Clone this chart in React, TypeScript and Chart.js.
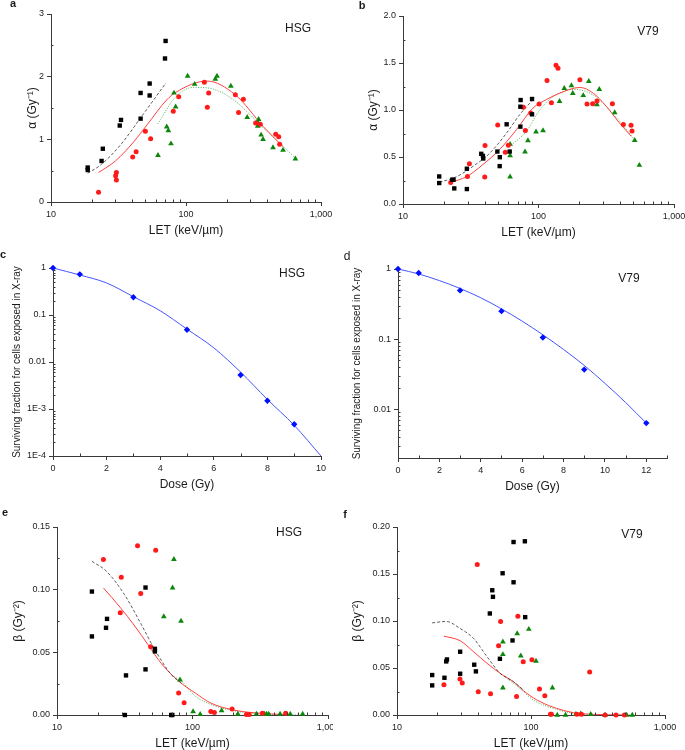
import React, { useEffect, useRef } from 'react';
import { Chart, registerables } from 'chart.js';

Chart.register(...registerables);

const FONT = "'Liberation Sans', Arial, Helvetica, sans-serif";
const AXIS = '#3a3a3a';
const TEXT = '#1a1a1a';
const RED = '#ff1a1a';
const GREEN = '#0b870b';
const BLACK = '#000000';
const BLUE = '#0010ff';

// ---------------- Panel a (HSG, alpha) ----------------
const aSqLET = [18.7, 18.7, 23.7, 24.2, 32.3, 33.0, 46.1, 46.1, 53.8, 53.8, 69.9, 70.6];
const aSqAlpha = [0.55, 0.51, 0.655, 0.85, 1.22, 1.31, 1.33, 1.74, 1.7, 1.89, 2.29, 2.57];
const aCirLET = [22.5, 30.1, 30.5, 30.5, 40.3, 42.7, 50.0, 54.7, 80.5, 88.3, 136.8, 143.9, 147.2, 232, 266, 245, 328, 355, 462, 486, 494];
const aCirAlpha = [0.155, 0.42, 0.47, 0.35, 0.72, 0.8, 1.13, 1.01, 1.45, 1.68, 1.91, 1.51, 1.74, 1.71, 1.64, 1.43, 1.26, 1.24, 1.08, 1.04, 0.92];
const aTriLET = [62, 72, 74, 77.4, 81.5, 83.8, 102.8, 115.9, 164.9, 169.7, 215, 284, 345, 341, 340, 360, 372, 441, 523, 646];
const aTriAlpha = [0.746, 1.2, 1.14, 0.93, 1.74, 1.52, 2.01, 1.88, 1.96, 2.01, 1.85, 1.35, 1.32, 1.26, 1.21, 1.07, 1.0, 0.87, 0.83, 0.69];
const aDashLET = [18.7, 23.3, 32.7, 46, 71];
const aDashAlpha = [0.46, 0.59, 0.91, 1.34, 1.9];
const aRedLET = [22.5, 30, 41, 51.4, 72, 84, 143, 232, 375, 525];
const aRedAlpha = [0.47, 0.655, 0.96, 1.23, 1.63, 1.75, 1.93, 1.71, 1.2, 0.88];
const aGreenLET = [62, 84, 115, 160, 225, 375, 660];
const aGreenAlpha = [1.25, 1.68, 1.83, 1.8, 1.63, 1.18, 0.68];

// ---------------- Panel b (V79, alpha) ----------------
const bSqLET = [18.5, 18.5, 23.1, 23.6, 23.9, 29.6, 29.6, 37.8, 38.9, 39.1, 49.7, 51.7, 51.8, 58.2, 61.3, 73.5, 73.5, 73.8, 89.6, 89.6];
const bSqAlpha = [0.293, 0.223, 0.258, 0.258, 0.166, 0.375, 0.159, 0.534, 0.512, 0.484, 0.558, 0.403, 0.498, 0.848, 0.558, 0.823, 1.035, 1.106, 0.954, 1.117];
const bCirLET = [22.5, 30.9, 29.9, 40.1, 40.3, 50.0, 56.9, 59.9, 77.3, 80.0, 87.6, 101, 115.6, 124.5, 134.7, 139.3, 202, 228, 251, 270, 351, 423, 482, 490];
const bCirAlpha = [0.23, 0.428, 0.293, 0.286, 0.622, 0.841, 0.551, 0.625, 1.028, 0.781, 0.968, 1.064, 1.314, 1.078, 1.477, 1.445, 1.322, 1.064, 1.067, 1.095, 1.067, 0.845, 0.837, 0.777];
const bTriLET = [61.7, 61.7, 61.7, 79.5, 83.6, 95.9, 108, 143, 155, 175, 179, 214, 235, 270, 281, 365, 513, 555];
const bTriAlpha = [0.636, 0.516, 0.29, 0.555, 0.675, 0.767, 0.781, 1.092, 1.23, 1.26, 1.177, 1.155, 1.304, 1.057, 1.219, 0.972, 0.678, 0.413];
const bDashLET = [18.6, 24.8, 32.8, 43.6, 57.8, 72.6, 91];
const bDashAlpha = [0.23, 0.29, 0.4, 0.54, 0.75, 0.95, 1.11];
const bRedLET = [22.5, 29.4, 38.9, 51.7, 68.7, 91, 114, 144, 202, 253, 316, 397, 484];
const bRedAlpha = [0.23, 0.29, 0.42, 0.58, 0.79, 1.02, 1.11, 1.18, 1.24, 1.18, 1.04, 0.86, 0.72];
const bGreenLET = [61, 81, 102, 128, 180, 253, 355, 514];
const bGreenAlpha = [0.61, 0.77, 1.0, 1.14, 1.22, 1.16, 0.96, 0.68];

// ---------------- Panel c (HSG, survival) ----------------
const cDose = [0, 1, 3, 5, 7, 8, 9];
const cSF = [1, 0.733, 0.238, 0.0487, 0.00529, 0.0015, 0.000472];
const cFitDose = [0, 1, 2, 3, 4, 5, 6, 7, 8, 9, 10];
const cFitSF = [1, 0.71, 0.48, 0.245, 0.123, 0.05, 0.02, 0.0061, 0.0016, 0.00045, 0.0001];

// ---------------- Panel d (V79, survival) ----------------
const dDose = [0, 1, 3, 5, 7, 9, 12];
const dSF = [1, 0.877, 0.495, 0.25, 0.105, 0.0366, 0.0063];
const dFitDose = [0, 1, 2, 3, 4, 5, 6, 7, 8, 9, 10, 11, 12];
const dFitSF = [1, 0.85, 0.683, 0.527, 0.388, 0.27, 0.18, 0.115, 0.071, 0.042, 0.0233, 0.0124, 0.0063];

// ---------------- Panel e (HSG, beta) ----------------
const eSqLET = [18.1, 18.1, 23.0, 23.4, 31.7, 32.3, 45.0, 45.0, 52.8, 52.8, 69.6, 71];
const eSqBeta = [0.0985, 0.0627, 0.0696, 0.0767, 0, 0.0316, 0.1017, 0.0364, 0.0528, 0.0507, 0, 0];
const eCirLET = [22.0, 29.8, 29.3, 39.3, 41.5, 49.1, 53.5, 79.0, 86.7, 136.5, 145, 196, 250, 262, 328, 487];
const eCirBeta = [0.124, 0.11, 0.0815, 0.135, 0.097, 0.0544, 0.1314, 0.0175, 0.0098, 0.0027, 0.002, 0.0048, 0.0003, 0.0003, 0.0013, 0.0013];
const eTriLET = [61.4, 71.3, 72.9, 82.3, 80.9, 101, 114, 164, 216, 296, 340, 352, 365, 443, 526, 650];
const eTriBeta = [0.0786, 0.1014, 0.1242, 0.0749, 0.0281, 0.0027, 0.0005, 0.0035, 0.0008, 0.0008, 0.0008, 0.0008, 0.0008, 0.0008, 0.0008, 0.0008];
const eDashLET = [18.1, 23, 31.5, 42, 52.8, 70, 83];
const eDashBeta = [0.1226, 0.115, 0.096, 0.072, 0.052, 0.032, 0.0255];
const eRedLET = [22, 29.2, 37.5, 47, 59, 79, 105, 136, 197, 295, 500];
const eRedBeta = [0.1014, 0.086, 0.071, 0.056, 0.041, 0.027, 0.0175, 0.0096, 0.0042, 0.0016, 0.0003];
const eGreenLET = [72.5, 83, 105, 140, 210, 370, 660];
const eGreenBeta = [0.031, 0.027, 0.015, 0.008, 0.003, 0.0005, 0];

// ---------------- Panel f (V79, beta) ----------------
const fSqLET = [18.3, 18.3, 22.6, 23.3, 23.6, 29.6, 29.6, 37.7, 38.8, 49.3, 51.4, 52.0, 58.6, 61.4, 72.8, 74.1, 74.1, 90, 90.5];
const fSqBeta = [0.0425, 0.0315, 0.0396, 0.057, 0.0591, 0.0673, 0.0439, 0.0535, 0.0464, 0.108, 0.1327, 0.1257, 0.0598, 0.1508, 0.0793, 0.184, 0.1412, 0.1848, 0.1041];
const fCirLET = [22.4, 29.5, 30.7, 39.7, 40.4, 49.9, 57.3, 59.3, 78.0, 79.8, 87.5, 101.6, 115.7, 126.8, 139.7, 142, 220, 238, 274, 357, 431, 498];
const fCirBeta = [0.0322, 0.0382, 0.034, 0.16, 0.0248, 0.0227, 0.0736, 0.0995, 0.0198, 0.1051, 0.0566, 0.0588, 0.0276, 0.0205, 0.0007, 0.0007, 0.0007, 0.0007, 0.0457, 0, 0, 0];
const fTriLET = [61.7, 61.7, 61.7, 78.9, 83.9, 96.3, 109, 144.5, 157, 181, 216, 235, 279, 357, 518, 570];
const fTriBeta = [0.0779, 0.0644, 0.029, 0.0867, 0.063, 0.0913, 0.0573, 0.029, 0, 0, 0.0007, 0.0014, 0.0007, 0, 0, 0];
const fDashLET = [18.3, 23.3, 29.6, 37.3, 47, 59, 74, 88];
const fDashBeta = [0.098, 0.0995, 0.092, 0.0814, 0.062, 0.0442, 0.0354, 0.0265];
const fRedLET = [22.4, 29.6, 37.3, 47, 59, 74, 93, 117, 155, 207, 292, 490];
const fRedBeta = [0.0839, 0.079, 0.0673, 0.055, 0.0442, 0.0354, 0.023, 0.0142, 0.0071, 0.0025, 0.0007, 0];
const fGreenLET = [66, 83, 104, 147, 207, 368, 580];
const fGreenBeta = [0.039, 0.028, 0.016, 0.007, 0.0018, 0, 0];

// ---------------- Axis tick values ----------------
const letTicks = [10, 100, 1000];
const aAlphaTicks = [0, 1, 2, 3];
const bAlphaTicks = [0, 0.5, 1.0, 1.5, 2.0];
const cSFTicks = [1, 0.1, 0.01, 0.001, 0.0001];
const cSFLabels = ['1', '0.1', '0.01', '1E-3', '1E-4'];
const dSFTicks = [1, 0.1, 0.01];
const dSFLabels = ['1', '0.1', '0.01'];
const cDoseTicks = [0, 2, 4, 6, 8, 10];
const dDoseTicks = [0, 2, 4, 6, 8, 10, 12];
const eBetaTicks = [0, 0.05, 0.1, 0.15];
const fBetaTicks = [0, 0.05, 0.1, 0.15, 0.2];

const logMinor = (lo: number, hi: number) => {
  const out: number[] = [];
  for (let d = lo; d < hi * 0.999; d *= 10) {
    for (let k = 2; k < 10; k++) {
      const v = k * d;
      if (v < hi) out.push(v);
    }
  }
  return out;
};
const midMinor = (ticks: number[]) => ticks.slice(0, -1).map((v, i) => (v + ticks[i + 1]) / 2);

type XY = { x: number; y: number };
const pts = (xs: number[], ys: number[]): XY[] => xs.map((x, i) => ({ x, y: ys[i] }));

const squares = (data: XY[]) => ({ data, showLine: false, pointStyle: 'rect', pointRadius: 3.1, backgroundColor: BLACK, borderColor: BLACK, borderWidth: 0, clip: false });
const circles = (data: XY[]) => ({ data, showLine: false, pointStyle: 'circle', pointRadius: 2.5, backgroundColor: RED, borderColor: RED, borderWidth: 0, clip: false });
const triangles = (data: XY[]) => ({ data, showLine: false, pointStyle: 'triangle', pointRadius: 3.3, backgroundColor: GREEN, borderColor: GREEN, borderWidth: 0, clip: false });
const diamonds = (data: XY[]) => ({ data, showLine: false, pointStyle: 'rectRot', pointRadius: 3.2, backgroundColor: BLUE, borderColor: BLUE, borderWidth: 0, clip: false });
const line = (data: XY[], color: string, dash: number[], width = 1) => ({
  data, showLine: true, pointRadius: 0, borderColor: color, borderWidth: width, borderDash: dash,
  fill: false, cubicInterpolationMode: 'monotone',
});

type TextItem = { text: string; x: number; y: number; size: number; bold?: boolean };

const makeMinorPlugin = (xMinor: number[], yMinor: number[]) => ({
  id: 'minorTicks',
  afterDraw(chart: any) {
    const { ctx, chartArea } = chart;
    const xs = chart.scales.x;
    const ys = chart.scales.y;
    ctx.save();
    ctx.strokeStyle = AXIS;
    ctx.lineWidth = 1;
    xMinor.forEach((v) => {
      const px = Math.round(xs.getPixelForValue(v)) + 0.5;
      ctx.beginPath();
      ctx.moveTo(px, chartArea.bottom);
      ctx.lineTo(px, chartArea.bottom - 2.5);
      ctx.stroke();
    });
    yMinor.forEach((v) => {
      const py = Math.round(ys.getPixelForValue(v)) + 0.5;
      ctx.beginPath();
      ctx.moveTo(chartArea.left, py);
      ctx.lineTo(chartArea.left + 2.5, py);
      ctx.stroke();
    });
    ctx.restore();
  },
});

const makeTextPlugin = (items: TextItem[]) => ({
  id: 'panelText',
  afterDraw(chart: any) {
    const { ctx } = chart;
    ctx.save();
    ctx.fillStyle = TEXT;
    ctx.textAlign = 'center';
    ctx.textBaseline = 'middle';
    items.forEach((t) => {
      ctx.font = `${t.bold ? 'bold ' : ''}${t.size}px ${FONT}`;
      ctx.fillText(t.text, t.x, t.y);
    });
    ctx.restore();
  },
});

type AxisSpec = {
  type: 'linear' | 'logarithmic';
  min: number;
  max: number;
  ticks: number[];
  label: (v: number) => string;
  minor: number[];
  title: string;
  titleSize: number;
  titlePad: number;
  size: number;
};

type PanelSpec = {
  left: number;
  top: number;
  width: number;
  height: number;
  padTop: number;
  padRight: number;
  x: AxisSpec;
  y: AxisSpec;
  datasets: any[];
  texts: TextItem[];
};

const scaleOptions = (a: AxisSpec, horizontal: boolean) => ({
  type: a.type,
  min: a.min,
  max: a.max,
  afterBuildTicks: (s: any) => {
    s.ticks = a.ticks.map((v) => ({ value: v }));
  },
  afterFit: (s: any) => {
    if (horizontal) {
      s.height = a.size;
      s.paddingLeft = 0;
      s.paddingRight = 0;
    } else {
      s.width = a.size;
      s.paddingTop = 0;
      s.paddingBottom = 0;
    }
  },
  ticks: {
    callback: (v: any) => a.label(Number(v)),
    font: { family: FONT, size: 9 },
    color: '#222222',
    padding: 3,
    maxRotation: 0,
    minRotation: 0,
    autoSkip: false,
  },
  grid: { display: true, drawOnChartArea: false, drawTicks: true, tickLength: 4, color: AXIS, tickColor: AXIS },
  border: { display: true, color: AXIS, width: 1 },
  title: {
    display: true,
    text: a.title,
    color: TEXT,
    font: { family: FONT, size: a.titleSize },
    padding: horizontal ? { top: 0, bottom: a.titlePad } : { top: a.titlePad, bottom: 0 },
  },
});

const buildConfig = (p: PanelSpec): any => ({
  type: 'scatter',
  data: { datasets: p.datasets },
  options: {
    responsive: false,
    animation: false,
    events: [],
    layout: { padding: { left: 0, top: p.padTop, right: p.padRight, bottom: 0 } },
    plugins: { legend: { display: false }, tooltip: { enabled: false }, title: { display: false } },
    scales: { x: scaleOptions(p.x, true), y: scaleOptions(p.y, false) },
  },
  plugins: [makeMinorPlugin(p.x.minor, p.y.minor), makeTextPlugin(p.texts)],
});

const letLabel = (v: number) => v.toLocaleString('en-US');
const LET_TITLE = 'LET (keV/µm)';
const DOSE_TITLE = 'Dose (Gy)';
const SF_TITLE = 'Surviving fraction for cells exposed in X-ray';

const panels: PanelSpec[] = [
  {
    left: 0, top: 0, width: 342, height: 250, padTop: 14, padRight: 21,
    x: { type: 'logarithmic', min: 10, max: 1000, ticks: letTicks, label: letLabel, minor: logMinor(10, 1000), title: LET_TITLE, titleSize: 12, titlePad: 12, size: 48 },
    y: { type: 'linear', min: 0, max: 3, ticks: aAlphaTicks, label: (v) => String(v), minor: midMinor(aAlphaTicks), title: 'α (Gy⁻¹)', titleSize: 12, titlePad: 25, size: 51 },
    datasets: [
      squares(pts(aSqLET, aSqAlpha)),
      circles(pts(aCirLET, aCirAlpha)),
      triangles(pts(aTriLET, aTriAlpha)),
      line(pts(aDashLET, aDashAlpha), '#333333', [3, 2], 0.8),
      line(pts(aRedLET, aRedAlpha), '#ff4040', []),
      line(pts(aGreenLET, aGreenAlpha), '#4caf50', [1, 1.5]),
    ],
    texts: [
      { text: 'a', x: 13, y: 4, size: 11, bold: true },
      { text: 'HSG', x: 298, y: 29, size: 12 },
    ],
  },
  {
    left: 342, top: 0, width: 343, height: 250, padTop: 16, padRight: 11,
    x: { type: 'logarithmic', min: 10, max: 1000, ticks: letTicks, label: letLabel, minor: logMinor(10, 1000), title: LET_TITLE, titleSize: 12, titlePad: 10, size: 46 },
    y: { type: 'linear', min: 0, max: 2, ticks: bAlphaTicks, label: (v) => v.toFixed(1), minor: midMinor(bAlphaTicks), title: 'α (Gy⁻¹)', titleSize: 12, titlePad: 24, size: 61 },
    datasets: [
      squares(pts(bSqLET, bSqAlpha)),
      circles(pts(bCirLET, bCirAlpha)),
      triangles(pts(bTriLET, bTriAlpha)),
      line(pts(bDashLET, bDashAlpha), '#333333', [3, 2], 0.8),
      line(pts(bRedLET, bRedAlpha), '#ff4040', []),
      line(pts(bGreenLET, bGreenAlpha), '#4caf50', [1, 1.5]),
    ],
    texts: [
      { text: 'b', x: 20, y: 6, size: 11, bold: true },
      { text: 'V79', x: 306, y: 32, size: 12 },
    ],
  },
  {
    left: 0, top: 250, width: 342, height: 250, padTop: 18, padRight: 21,
    x: { type: 'linear', min: 0, max: 10, ticks: cDoseTicks, label: (v) => String(v), minor: midMinor(cDoseTicks), title: DOSE_TITLE, titleSize: 12, titlePad: 8, size: 44 },
    y: { type: 'logarithmic', min: 0.0001, max: 1, ticks: cSFTicks, label: (v) => cSFLabels[cSFTicks.findIndex((t) => Math.abs(t - v) / t < 1e-6)] ?? '', minor: logMinor(0.0001, 1), title: SF_TITLE, titleSize: 10, titlePad: 11, size: 53 },
    datasets: [
      diamonds(pts(cDose, cSF)),
      line(pts(cFitDose, cFitSF), '#4455ff', []),
    ],
    texts: [
      { text: 'c', x: 3, y: 5, size: 11, bold: true },
      { text: 'HSG', x: 292, y: 24, size: 12 },
    ],
  },
  {
    left: 342, top: 250, width: 343, height: 250, padTop: 19, padRight: 18,
    x: { type: 'linear', min: 0, max: 13, ticks: dDoseTicks, label: (v) => String(v), minor: [1, 3, 5, 7, 9, 11, 13], title: DOSE_TITLE, titleSize: 12, titlePad: 6, size: 42 },
    y: { type: 'logarithmic', min: 0.002, max: 1, ticks: dSFTicks, label: (v) => dSFLabels[dSFTicks.findIndex((t) => Math.abs(t - v) / t < 1e-6)] ?? '', minor: logMinor(0.001, 1), title: SF_TITLE, titleSize: 10, titlePad: 9, size: 56 },
    datasets: [
      diamonds(pts(dDose, dSF)),
      line(pts(dFitDose, dFitSF), '#4455ff', []),
    ],
    texts: [
      { text: 'd', x: 5, y: 7, size: 12 },
      { text: 'V79', x: 287, y: 29, size: 12 },
    ],
  },
  {
    left: 0, top: 500, width: 333, height: 250, padTop: 27, padRight: 5,
    x: { type: 'logarithmic', min: 10, max: 1000, ticks: letTicks, label: letLabel, minor: logMinor(10, 1000), title: LET_TITLE, titleSize: 12, titlePad: -1, size: 35 },
    y: { type: 'linear', min: 0, max: 0.15, ticks: eBetaTicks, label: (v) => v.toFixed(2), minor: midMinor(eBetaTicks), title: 'β (Gy⁻²)', titleSize: 12, titlePad: 11, size: 57 },
    datasets: [
      squares(pts(eSqLET, eSqBeta)),
      circles(pts(eCirLET, eCirBeta)),
      triangles(pts(eTriLET, eTriBeta)),
      line(pts(eDashLET, eDashBeta), '#333333', [3, 2], 0.8),
      line(pts(eRedLET, eRedBeta), '#ff4040', []),
      line(pts(eGreenLET, eGreenBeta), '#4caf50', [1, 1.5]),
    ],
    texts: [
      { text: 'e', x: 5, y: 13, size: 11, bold: true },
      { text: 'HSG', x: 289, y: 33, size: 12 },
    ],
  },
  {
    left: 342, top: 500, width: 343, height: 250, padTop: 27, padRight: 20,
    x: { type: 'logarithmic', min: 10, max: 1000, ticks: letTicks, label: letLabel, minor: logMinor(10, 1000), title: LET_TITLE, titleSize: 12, titlePad: -1, size: 35 },
    y: { type: 'linear', min: 0, max: 0.2, ticks: fBetaTicks, label: (v) => v.toFixed(2), minor: midMinor(fBetaTicks), title: 'β (Gy⁻²)', titleSize: 12, titlePad: 8, size: 55 },
    datasets: [
      squares(pts(fSqLET, fSqBeta)),
      circles(pts(fCirLET, fCirBeta)),
      triangles(pts(fTriLET, fTriBeta)),
      line(pts(fDashLET, fDashBeta), '#333333', [3, 2], 0.8),
      line(pts(fRedLET, fRedBeta), '#ff4040', []),
      line(pts(fGreenLET, fGreenBeta), '#4caf50', [1, 1.5]),
    ],
    texts: [
      { text: 'f', x: 3, y: 15, size: 11, bold: true },
      { text: 'V79', x: 290, y: 35, size: 12 },
    ],
  },
];

function Panel({ spec }: { spec: PanelSpec }) {
  const ref = useRef<HTMLCanvasElement | null>(null);
  useEffect(() => {
    if (!ref.current) return;
    const chart = new Chart(ref.current, buildConfig(spec));
    return () => chart.destroy();
  }, [spec]);
  return (
    <canvas
      ref={ref}
      width={spec.width}
      height={spec.height}
      style={{ position: 'absolute', left: spec.left, top: spec.top, width: spec.width, height: spec.height }}
    />
  );
}

export default function App() {
  return (
    <div style={{ position: 'absolute', left: 0, top: 0, width: 685, height: 750, overflow: 'hidden', background: '#ffffff' }}>
      {panels.map((p, i) => (
        <Panel key={i} spec={p} />
      ))}
    </div>
  );
}
